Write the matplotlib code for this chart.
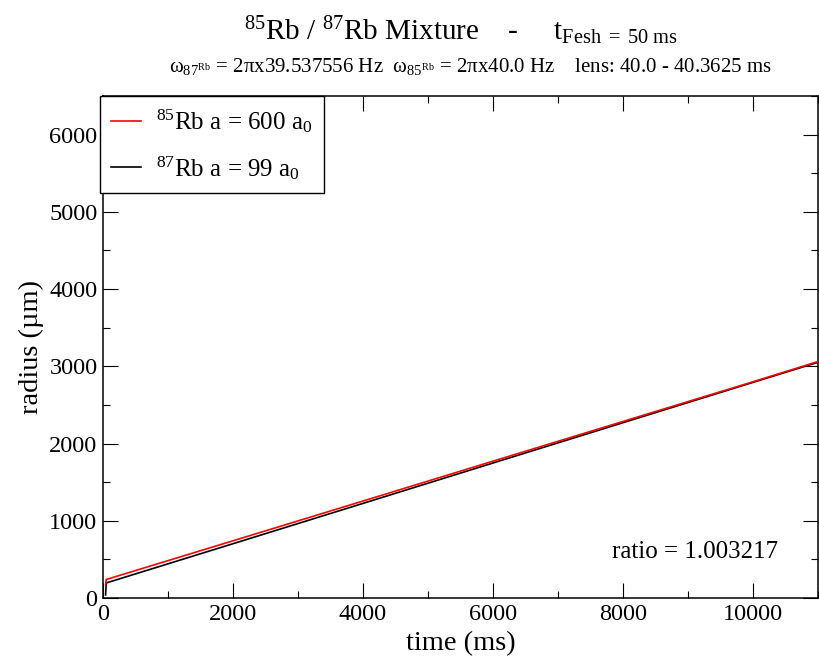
import matplotlib
matplotlib.use("Agg")
import matplotlib.pyplot as plt
from matplotlib.ticker import MultipleLocator

plt.rcParams['font.family'] = ['Liberation Serif', 'DejaVu Serif']
plt.rcParams['mathtext.fontset'] = 'custom'
plt.rcParams['mathtext.rm'] = 'Liberation Serif'
plt.rcParams['mathtext.it'] = 'Liberation Serif:italic'
plt.rcParams['mathtext.bf'] = 'Liberation Serif:bold'

# values
t_85 = [40, 50, 2000, 4000, 6000, 8000, 10000, 11000]
r_85 = [170, 240, 741, 1256, 1772, 2286, 2800, 3062]
t_87 = [40, 50, 2000, 4000, 6000, 8000, 10000, 11000]
r_87 = [40, 195, 703, 1225, 1748, 2270, 2792, 3052]

label_85 = "$^{85}$Rb a = 600 a$_0$"
label_87 = "$^{87}$Rb a = 99 a$_0$"
ratio = 1.003217

fig = plt.figure(figsize=(8.19, 6.6), dpi=100)
ax = fig.add_axes([103 / 819, 1 - 598 / 660, 715 / 819, 502 / 660])

ax.plot(t_85, r_85, color='red', lw=1.2, label=label_85, zorder=3)
ax.plot(t_87, r_87, color='black', lw=1.2, label=label_87, zorder=2)

ax.set_xlim(0, 11000)
ax.set_ylim(0, 6500)
ax.xaxis.set_major_locator(MultipleLocator(2000))
ax.xaxis.set_minor_locator(MultipleLocator(1000))
ax.yaxis.set_major_locator(MultipleLocator(1000))
ax.yaxis.set_minor_locator(MultipleLocator(500))
ax.tick_params(which='both', direction='in', top=True, right=True, width=0.8)
ax.tick_params(which='major', length=10.5, labelsize=17.5, pad=4)
ax.tick_params(which='minor', length=5)
for s in ax.spines.values():
    s.set_linewidth(1.1)

ax.set_xlabel("time (ms)", fontsize=20.5)
ax.set_ylabel("radius (µm)", fontsize=20.5)
ax.xaxis.set_label_coords(0.5, -0.065)
ax.yaxis.set_label_coords(-0.083, 0.5)

leg = ax.legend(loc='upper left', bbox_to_anchor=(-0.004, 1.0), borderaxespad=0,
                fontsize=18, fancybox=False, edgecolor='black', framealpha=1,
                handlelength=1.2, handletextpad=0.6, labelspacing=0.75,
                borderpad=0.45)
leg.get_frame().set_linewidth(1.0)

ax.text(10385, 600, f"ratio = {ratio:.6f}", fontsize=18, ha='right', va='center')

fig.text(0.563, 1 - 40 / 660,
         "$^{85}$Rb / $^{87}$Rb Mixture    -     t$_{\\mathrm{Fesh}\\ {=}\\ \\mathrm{50\\ ms}}$",
         fontsize=21, ha='center', va='baseline')
fig.text(0.575, 1 - 72 / 660,
         "ω$_{87^{\\mathrm{Rb}}}$ = 2πx39.537556 Hz  ω$_{85^{\\mathrm{Rb}}}$ = 2πx40.0 Hz    lens: 40.0 - 40.3625 ms",
         fontsize=15, ha='center', va='baseline')

fig.savefig("out.png", dpi=100)
